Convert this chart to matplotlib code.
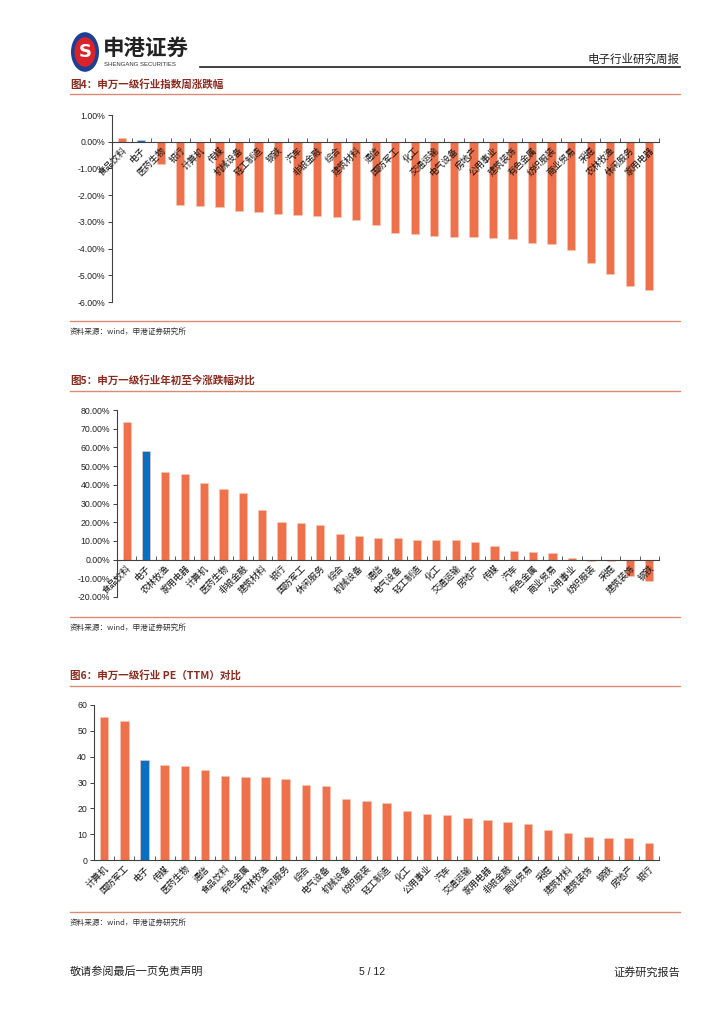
import matplotlib
matplotlib.use('Agg')
import matplotlib.pyplot as plt
import numpy as np
from matplotlib.patches import Circle

plt.rcParams['font.family'] = ['Noto Sans CJK SC', 'DejaVu Sans']

# 图4 申万一级行业指数周涨跌幅 (%)
week_labels = ['食品饮料', '电子', '医药生物', '银行', '计算机', '传媒', '机械设备', '轻工制造',
               '钢铁', '汽车', '非银金融', '综合', '建筑材料', '通信', '国防军工', '化工',
               '交通运输', '电气设备', '房地产', '公用事业', '建筑装饰', '有色金属', '纺织服装',
               '商业贸易', '采掘', '农林牧渔', '休闲服务', '家用电器']
week_values = [0.15, 0.07, -0.82, -2.36, -2.41, -2.46, -2.59, -2.64, -2.72, -2.73, -2.77,
               -2.83, -2.93, -3.13, -3.42, -3.45, -3.53, -3.56, -3.57, -3.59, -3.64, -3.79,
               -3.82, -4.07, -4.55, -4.94, -5.41, -5.54]

# 图5 申万一级行业年初至今涨跌幅对比 (%)
ytd_labels = ['食品饮料', '电子', '农林牧渔', '家用电器', '计算机', '医药生物', '非银金融', '建筑材料',
              '银行', '国防军工', '休闲服务', '综合', '机械设备', '通信', '电气设备', '轻工制造',
              '化工', '交通运输', '房地产', '传媒', '汽车', '有色金属', '商业贸易', '公用事业',
              '纺织服装', '采掘', '建筑装饰', '钢铁']
ytd_values = [73.4, 58.0, 47.1, 45.7, 40.9, 37.9, 35.4, 26.5, 20.2, 19.4, 18.3, 13.6, 12.8,
              11.4, 11.3, 10.7, 10.5, 10.4, 9.3, 7.5, 4.4, 4.1, 3.6, 1.1, -0.6, -0.6, -8.8, -11.5]

# 图6 申万一级行业 PE(TTM) 对比
pe_labels = ['计算机', '国防军工', '电子', '传媒', '医药生物', '通信', '食品饮料', '有色金属',
             '农林牧渔', '休闲服务', '综合', '电气设备', '机械设备', '纺织服装', '轻工制造', '化工',
             '公用事业', '汽车', '交通运输', '家用电器', '非银金融', '商业贸易', '采掘', '建筑材料',
             '建筑装饰', '钢铁', '房地产', '银行']
pe_values = [55.2, 53.8, 38.7, 36.7, 36.3, 34.8, 32.6, 32.3, 32.1, 31.5, 29.1, 28.8, 23.6,
             22.8, 22.0, 18.8, 18.0, 17.5, 16.2, 15.6, 14.6, 13.9, 11.6, 10.6, 8.9, 8.5, 8.5, 6.7]

ORANGE = '#EF714B'
BLUE = '#0A6FC2'
TITLE_RED = '#8B2A1E'
RULE = '#D98B75'

W, H = 724, 1024
fig = plt.figure(figsize=(W / 100, H / 100), dpi=100)
fig.patch.set_facecolor('white')


def fx(x):
    return x / W


def fy(y):
    return 1 - y / H


def hline(y, x0=70, x1=680, color=RULE, lw=1.0):
    fig.add_artist(plt.Line2D([fx(x0), fx(x1)], [fy(y), fy(y)], color=color, lw=lw))


def bar_chart(rect, labels, values, ylim, yticks, fmt):
    x0, y0, x1, y1 = rect
    ax = fig.add_axes([fx(x0), fy(y1), fx(x1) - fx(x0), fy(y0) - fy(y1)])
    n = len(values)
    xs = np.arange(n)
    colors = [BLUE if lab == '电子' else ORANGE for lab in labels]
    ax.bar(xs, values, width=0.42, color=colors, edgecolor='#F9C9B6', linewidth=0.4)
    ax.set_xlim(-0.5, n - 0.5)
    ax.set_ylim(*ylim)
    ax.set_yticks(yticks)
    ax.set_yticklabels([fmt(v) for v in yticks], fontsize=6.3, family='Liberation Sans')
    for s in ['top', 'right']:
        ax.spines[s].set_visible(False)
    ax.spines['bottom'].set_position(('data', 0))
    ax.spines['bottom'].set_color('#404040')
    ax.spines['left'].set_color('#404040')
    ax.spines['bottom'].set_linewidth(0.8)
    ax.spines['left'].set_linewidth(0.8)
    ax.tick_params(axis='y', length=3, width=0.6, pad=2, colors='#222222')
    ax.set_xticks(xs)
    ax.set_xticklabels(labels, rotation=45, ha='right', rotation_mode='anchor',
                       fontsize=6.5, color='#111111')
    ax.tick_params(axis='x', length=0, pad=3)
    ax.set_xticks(np.arange(n + 1) - 0.5, minor=True)
    ax.tick_params(axis='x', which='minor', length=3, width=0.6, direction='in', colors='#404040')
    return ax


# header
fig.add_artist(Circle((fx(85), fy(52)), 14 / W, transform=fig.transFigure,
                      facecolor='#1D3F94', edgecolor='none'))
fig.add_artist(Circle((fx(85), fy(52)), 10.5 / W, transform=fig.transFigure,
                      facecolor='#D9232A', edgecolor='none'))
fig.text(fx(85), fy(52), 'S', fontsize=13, color='white', fontweight='bold',
         ha='center', va='center', family='DejaVu Sans')
fig.text(fx(103), fy(48), '申港证券', fontsize=15.5, fontweight='bold', color='#222222',
         ha='left', va='center')
fig.text(fx(104), fy(64), 'SHENGANG SECURITIES', fontsize=4.3, color='#333333',
         ha='left', va='center', family='Liberation Sans')
hline(67, 200, 680, color='#222222', lw=1.2)
fig.text(fx(680), fy(59), '电子行业研究周报', fontsize=8.3, color='#222222', ha='right', va='center')

# section titles and rules
for ty, ly, txt in [(85, 94, '图4：申万一级行业指数周涨跌幅'),
                    (380, 391, '图5：申万一级行业年初至今涨跌幅对比'),
                    (675, 686, '图6：申万一级行业 PE（TTM）对比')]:
    fig.text(fx(70), fy(ty), txt, fontsize=7.6, fontweight='bold', color=TITLE_RED,
             ha='left', va='center')
    hline(ly)

for ly, ty in [(321, 332), (617, 628), (912, 923)]:
    hline(ly)
    fig.text(fx(70), fy(ty), '资料来源：wind，申港证券研究所', fontsize=5.5, style='italic',
             color='#333333', ha='left', va='center')

# charts
bar_chart((112, 115, 659, 302), week_labels, week_values, (-6, 1),
          [1, 0, -1, -2, -3, -4, -5, -6], lambda v: f'{v:.2f}%')
bar_chart((117, 410, 659, 597), ytd_labels, ytd_values, (-20, 80),
          [80, 70, 60, 50, 40, 30, 20, 10, 0, -10, -20], lambda v: f'{v:.2f}%')
bar_chart((94, 705, 659, 860), pe_labels, pe_values, (0, 60),
          [0, 10, 20, 30, 40, 50, 60], lambda v: f'{v:d}')

# footer
fig.text(fx(70), fy(972), '敬请参阅最后一页免责声明', fontsize=8, color='#222222', ha='left', va='center')
fig.text(fx(372), fy(972), '5 / 12', fontsize=7.5, color='#222222', ha='center', va='center',
         family='Liberation Sans')
fig.text(fx(680), fy(972), '证券研究报告', fontsize=8, color='#222222', ha='right', va='center')

fig.savefig('out.png', dpi=100)
